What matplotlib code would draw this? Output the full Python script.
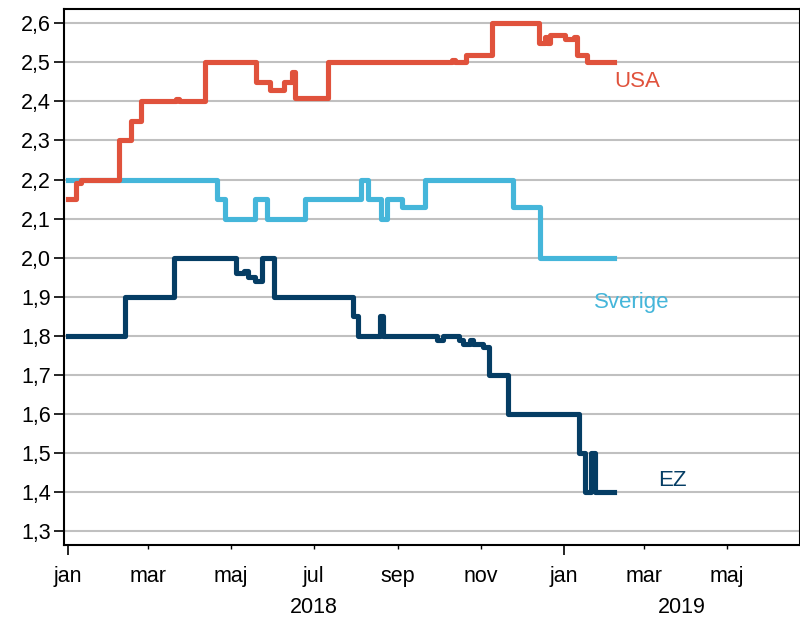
import matplotlib
matplotlib.use("Agg")
import matplotlib.pyplot as plt
import pandas as pd

# breakpoints of the step series (date the level changes, level)
usa_dates = ["2018-01-01", "2018-01-07", "2018-01-11", "2018-02-08", "2018-02-17", "2018-02-24",
             "2018-03-22", "2018-03-24", "2018-04-12", "2018-05-20", "2018-05-30", "2018-06-09",
             "2018-06-15", "2018-06-17", "2018-07-12", "2018-10-11", "2018-10-13", "2018-10-21",
             "2018-11-09", "2018-12-14", "2018-12-18", "2018-12-20", "2018-12-22", "2019-01-02",
             "2019-01-09", "2019-01-11", "2019-01-18", "2019-02-07"]
usa_vals = [2.15, 2.19, 2.20, 2.30, 2.35, 2.40,
            2.405, 2.40, 2.50, 2.45, 2.43, 2.45,
            2.475, 2.41, 2.50, 2.505, 2.50, 2.52,
            2.60, 2.55, 2.565, 2.55, 2.57, 2.56,
            2.565, 2.52, 2.50, 2.50]

swe_dates = ["2018-01-01", "2018-04-21", "2018-04-27", "2018-05-19", "2018-05-28", "2018-06-25",
             "2018-08-05", "2018-08-10", "2018-08-20", "2018-08-24", "2018-09-04", "2018-09-21",
             "2018-11-25", "2018-12-15", "2019-02-07"]
swe_vals = [2.20, 2.15, 2.10, 2.15, 2.10, 2.15,
            2.20, 2.15, 2.10, 2.15, 2.13, 2.20,
            2.13, 2.00, 2.00]

ez_dates = ["2018-01-01", "2018-02-12", "2018-03-20", "2018-05-05", "2018-05-11", "2018-05-14",
            "2018-05-19", "2018-05-24", "2018-06-02", "2018-07-30", "2018-08-03", "2018-08-19",
            "2018-08-21", "2018-09-30", "2018-10-04", "2018-10-16", "2018-10-19", "2018-10-24",
            "2018-10-26", "2018-11-03", "2018-11-07", "2018-11-21", "2019-01-12", "2019-01-17",
            "2019-01-21", "2019-01-24", "2019-02-07"]
ez_vals = [1.80, 1.90, 2.00, 1.96, 1.965, 1.95,
           1.94, 2.00, 1.90, 1.85, 1.80, 1.85,
           1.80, 1.79, 1.80, 1.79, 1.78, 1.79,
           1.78, 1.77, 1.70, 1.60, 1.50, 1.40,
           1.50, 1.40, 1.40]

month_ticks = ["2018-03-01", "2018-05-01", "2018-07-01", "2018-09-01", "2018-11-01",
               "2019-03-01", "2019-05-01"]
month_labels = ["mar", "maj", "jul", "sep", "nov", "mar", "maj"]
year_ticks = ["2018-01-01", "2019-01-01"]
year_names = ["2018", "2019"]

plt.rcParams['font.family'] = ['Liberation Sans', 'DejaVu Sans']

fig = plt.figure(figsize=(8, 6.17), dpi=100)
ax = fig.add_axes([63.5 / 800, 1 - 545 / 617, 736.5 / 800, 535.7 / 617])

red = "#E0523C"
light = "#45B6DA"
navy = "#053D64"

ax.plot(pd.to_datetime(swe_dates), swe_vals, color=light, lw=3.7, drawstyle="steps-post")
ax.plot(pd.to_datetime(usa_dates), usa_vals, color=red, lw=3.7, drawstyle="steps-post")
ax.plot(pd.to_datetime(ez_dates), ez_vals, color=navy, lw=3.7, drawstyle="steps-post")

ax.set_ylim(1.264, 2.636)
ax.set_xlim(pd.Timestamp("2017-12-29"), pd.Timestamp("2019-06-24"))

fs = 15.5
yt = [1.3 + 0.1 * i for i in range(14)]
ax.set_yticks(yt)
ax.set_yticklabels([("%.1f" % v).replace(".", ",") for v in yt], fontsize=fs)
ax.yaxis.grid(True, color="#C0C0C0", lw=1.5)
ax.set_axisbelow(True)

ax.set_xticks(pd.to_datetime(year_ticks))
ax.set_xticklabels(["jan", "jan"], fontsize=fs)
ax.set_xticks(pd.to_datetime(month_ticks), minor=True)
ax.set_xticklabels(month_labels, minor=True, fontsize=fs)
ax.tick_params(axis="x", which="major", length=7, width=1.2, pad=8)
ax.tick_params(axis="x", which="minor", length=3, width=1.0, pad=12)
ax.tick_params(axis="y", length=7, width=1.2, pad=2)

for sp in ax.spines.values():
    sp.set_linewidth(1.5)
    sp.set_color("black")

# year labels under the month labels
ax.text(pd.Timestamp("2018-07-01"), -0.116, year_names[0], transform=ax.get_xaxis_transform(),
        ha="center", va="center", fontsize=fs)
ax.text(pd.Timestamp("2019-03-29"), -0.116, year_names[1], transform=ax.get_xaxis_transform(),
        ha="center", va="center", fontsize=fs)

ax.text(pd.Timestamp("2019-02-24"), 2.452, "USA", color=red, fontsize=16, ha="center", va="center")
ax.text(pd.Timestamp("2019-02-20"), 1.885, "Sverige", color=light, fontsize=16, ha="center", va="center")
ax.text(pd.Timestamp("2019-03-22"), 1.43, "EZ", color=navy, fontsize=16, ha="center", va="center")

fig.savefig("out.png", dpi=100)
